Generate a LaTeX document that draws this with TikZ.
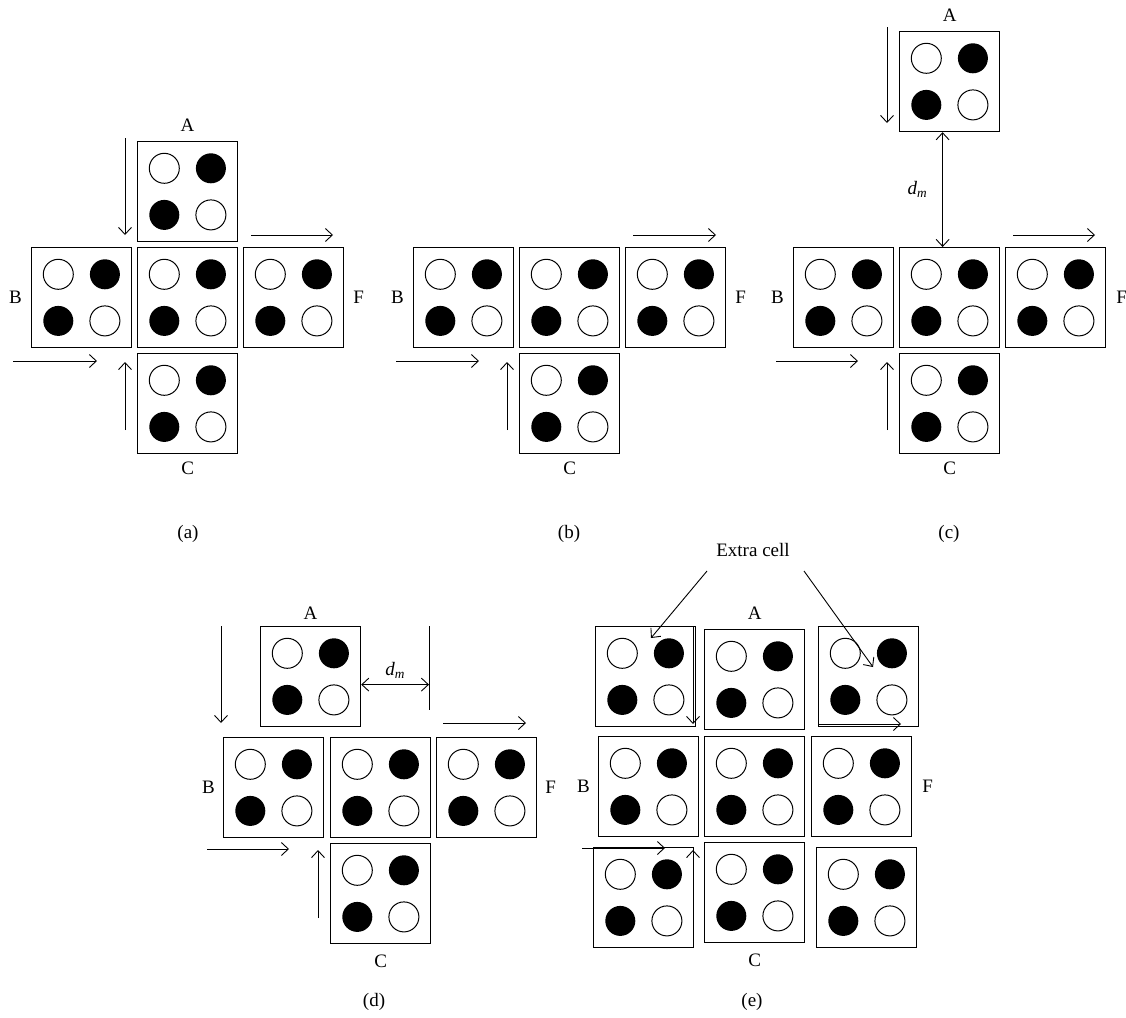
\documentclass[tikz,border=0pt]{standalone}
\usepackage{fontspec}
\setmainfont{Liberation Serif}
\usetikzlibrary{arrows.meta,positioning,calc}

% one braille-like cell: box named #1 with its top-left corner at #2
\newcommand{\dotcell}[2]{%
  \node[cell] (#1) at (#2) {};
  \draw[ring] ([shift={(-23.3,-23.3)}]#1.center) circle[radius=15];
  \fill ([shift={(23.3,-23.3)}]#1.center) circle[radius=15];
  \fill ([shift={(-23.3,23.3)}]#1.center) circle[radius=15];
  \draw[ring] ([shift={(23.3,23.3)}]#1.center) circle[radius=15];
}
\newcommand{\dm}{\textit{d}\textsubscript{\textit{m}}}

\begin{document}
\begin{tikzpicture}[
      x=1pt, y=-1pt,
      cell/.style={rectangle, draw, line width=1.2pt, minimum size=100pt,
                   inner sep=0pt, anchor=north west},
      ring/.style={line width=1pt},
      lbl/.style ={inner sep=1pt, font=\fontsize{19}{22}\selectfont},
      flow/.style={-{Straight Barb[length=7pt,width=13pt]}, line width=0.9pt},
      both/.style={{Straight Barb[length=7pt,width=13pt]}-{Straight Barb[length=7pt,width=13pt]},
                   line width=0.9pt}
    ]
    \useasboundingbox (0,0) rectangle (1126,1017);

    % --- (a) ---
    \dotcell{aA}{137,141}
    \dotcell{aB}{31,247}
    \dotcell{aO}{137,247}
    \dotcell{aF}{243,247}
    \dotcell{aC}{137,353}
    \node[lbl, above=8pt of aA] (aAl) {A};
    \node[lbl, left=8pt of aB]  (aBl) {B};
    \node[lbl, right=8pt of aF] (aFl) {F};
    \node[lbl, below=7pt of aC] (aCl) {C};
    \node[lbl] (acap) at (188,534) {(a)};
    \coordinate (a1) at (125,138);  \coordinate (a2) at (125,235);
    \coordinate (a3) at (251,235);  \coordinate (a4) at (333,235);
    \coordinate (a5) at (13,361);   \coordinate (a6) at (97,361);
    \coordinate (a7) at (125,430);  \coordinate (a8) at (125,362);
    \draw[flow] (a1) -- (a2);
    \draw[flow] (a3) -- (a4);
    \draw[flow] (a5) -- (a6);
    \draw[flow] (a7) -- (a8);

    % --- (b) ---
    \dotcell{bB}{413,247}
    \dotcell{bO}{519,247}
    \dotcell{bF}{625,247}
    \dotcell{bC}{519,353}
    \node[lbl, left=8pt of bB]  (bBl) {B};
    \node[lbl, right=8pt of bF] (bFl) {F};
    \node[lbl, below=7pt of bC] (bCl) {C};
    \node[lbl] (bcap) at (569,534) {(b)};
    \coordinate (b1) at (633,235);  \coordinate (b2) at (716,235);
    \coordinate (b3) at (396,361);  \coordinate (b4) at (479,361);
    \coordinate (b5) at (507,430);  \coordinate (b6) at (507,362);
    \draw[flow] (b1) -- (b2);
    \draw[flow] (b3) -- (b4);
    \draw[flow] (b5) -- (b6);

    % --- (c) ---
    \dotcell{cA}{899,31}
    \dotcell{cB}{793,247}
    \dotcell{cO}{899,247}
    \dotcell{cF}{1005,247}
    \dotcell{cC}{899,353}
    \node[lbl, above=8pt of cA] (cAl) {A};
    \node[lbl, left=8pt of cB]  (cBl) {B};
    \node[lbl, right=9pt of cF] (cFl) {F};
    \node[lbl, below=7pt of cC] (cCl) {C};
    \node[lbl] (ccap) at (949,534) {(c)};
    \draw[both] ([xshift=-7pt]cA.south) -- node[lbl, midway, left=14pt] (cdm) {\dm}
                ([xshift=-7pt]cO.north);
    \coordinate (c1) at (887,27);   \coordinate (c2) at (887,123);
    \coordinate (c3) at (1013,235); \coordinate (c4) at (1095,235);
    \coordinate (c5) at (776,361);  \coordinate (c6) at (858,361);
    \coordinate (c7) at (887,430);  \coordinate (c8) at (887,362);
    \draw[flow] (c1) -- (c2);
    \draw[flow] (c3) -- (c4);
    \draw[flow] (c5) -- (c6);
    \draw[flow] (c7) -- (c8);

    % --- (d) ---
    \dotcell{dA}{260,626}
    \dotcell{dB}{223,737}
    \dotcell{dO}{330,737}
    \dotcell{dF}{436,737}
    \dotcell{dC}{330,843}
    \node[lbl, above=5pt of dA]  (dAl) {A};
    \node[lbl, left=7pt of dB]   (dBl) {B};
    \node[lbl, right=7pt of dF]  (dFl) {F};
    \node[lbl, below=10pt of dC] (dCl) {C};
    \node[lbl] (dcap) at (374,1002) {(d)};
    \coordinate (dmt) at (429,626); \coordinate (dmb) at (429,710);
    \draw[line width=0.9pt] (dmt) -- (dmb);
    \draw[both] ([yshift=-8pt]dA.east) -- node[lbl, midway, above=5pt] (ddm) {\dm}
                ([yshift=-8pt]dA.east -| dmt);
    \coordinate (d1) at (221,626);  \coordinate (d2) at (221,723);
    \coordinate (d3) at (443,723);  \coordinate (d4) at (526,723);
    \coordinate (d5) at (207,849);  \coordinate (d6) at (289,849);
    \coordinate (d7) at (318,918);  \coordinate (d8) at (318,850);
    \draw[flow] (d1) -- (d2);
    \draw[flow] (d3) -- (d4);
    \draw[flow] (d5) -- (d6);
    \draw[flow] (d7) -- (d8);

    % --- (e) ---
    \dotcell{eTL}{595,626}
    \dotcell{eA}{704,629}
    \dotcell{eTR}{818,626}
    \dotcell{eB}{598,736}
    \dotcell{eO}{704,736}
    \dotcell{eF}{811,736}
    \dotcell{eBL}{593,847}
    \dotcell{eC}{704,842}
    \dotcell{eBR}{816,847}
    \node[lbl, above=8pt of eA]  (eAl) {A};
    \node[lbl, left=7pt of eB]   (eBl) {B};
    \node[lbl, right=9pt of eF]  (eFl) {F};
    \node[lbl, below=10pt of eC] (eCl) {C};
    \node[lbl] (ecap) at (752,1002) {(e)};
    \node[lbl] (xtra) at (753,550) {Extra cell};
    \coordinate (x1) at (707,571);  \coordinate (x2) at (651,638);
    \coordinate (x3) at (804,571);  \coordinate (x4) at (873,667);
    \draw[flow] (x1) -- (x2);
    \draw[flow] (x3) -- (x4);
    \coordinate (e1) at (693,626);  \coordinate (e2) at (693,724);
    \coordinate (e3) at (818,724);  \coordinate (e4) at (901,724);
    \coordinate (e5) at (582,848);  \coordinate (e6) at (665,848);
    \coordinate (e7) at (693,946);  \coordinate (e8) at (693,850);
    \draw[flow] (e1) -- (e2);
    \draw[flow] (e3) -- (e4);
    \draw[flow] (e5) -- (e6);
    \draw[flow] (e7) -- (e8);
  \end{tikzpicture}
\end{document}
